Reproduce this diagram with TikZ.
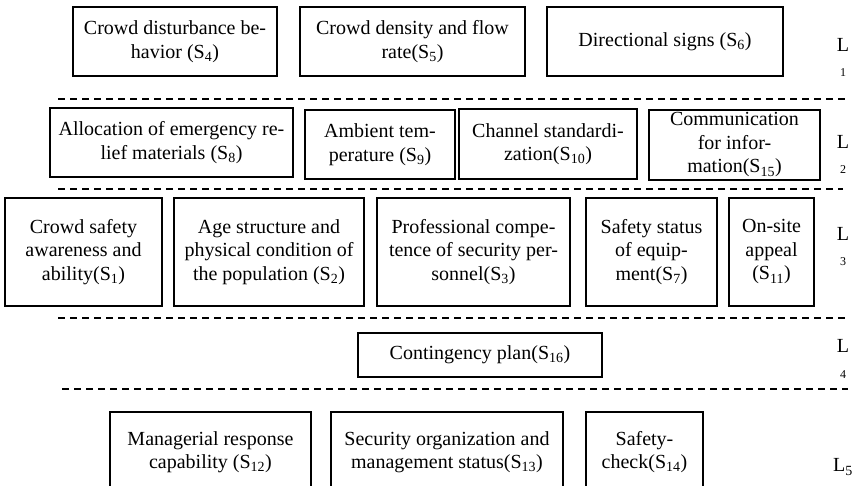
\documentclass[tikz,border=0pt]{standalone}
\usepackage{fontspec}
\setmainfont{Liberation Serif}
\usetikzlibrary{positioning}

\begin{document}
\begin{tikzpicture}[x=1pt, y=-1pt,
						factor/.style={rectangle, draw=black!100, fill=white, line width=1.1pt, inner sep=0pt, align=center, font=\fontsize{20}{23.5}\selectfont},
						levelsym/.style={inner sep=0pt, font=\fontsize{20}{23.5}\selectfont},
						levelidx/.style={inner sep=0pt, font=\fontsize{12}{14}\selectfont},
						divider/.style={line width=1.2pt, dash pattern=on 7pt off 5pt}
					]
					\useasboundingbox (0,0) rectangle (858,486);
					% level 1
					\node[factor, minimum width=204pt, minimum height=69pt] (s4) at (175,41.5) {Crowd disturbance be-\\havior (S\textsubscript{4})};
					\node[factor, minimum width=225pt, minimum height=69pt] (s5) at (412.5,41.5) {Crowd density and flow\\rate(S\textsubscript{5})};
					\node[factor, minimum width=236pt, minimum height=69pt] (s6) at (665,41.5) {Directional signs (S\textsubscript{6})};
					% level 2
					\node[factor, minimum width=243pt, minimum height=69pt] (s8) at (171.5,142.5) {Allocation of emergency re-\\lief materials (S\textsubscript{8})};
					\node[factor, minimum width=150pt, minimum height=69pt] (s9) at (380,144.5) {Ambient tem-\\perature (S\textsubscript{9})};
					\node[factor, minimum width=178pt, minimum height=70pt] (s10) at (548,144) {Channel standardi-\\zation(S\textsubscript{10})};
					\node[factor, minimum width=171pt, minimum height=70pt] (s15) at (734.5,145) {Communication\\for infor-\\mation(S\textsubscript{15})};
					% level 3
					\node[factor, minimum width=157pt, minimum height=108pt] (s1) at (83.5,252) {Crowd safety\\awareness and\\ability(S\textsubscript{1})};
					\node[factor, minimum width=190pt, minimum height=108pt] (s2) at (269,252) {Age structure and\\physical condition of\\the population (S\textsubscript{2})};
					\node[factor, minimum width=193pt, minimum height=108pt] (s3) at (473.5,252) {Professional compe-\\tence of security per-\\sonnel(S\textsubscript{3})};
					\node[factor, minimum width=131pt, minimum height=108pt] (s7) at (651.5,252) {Safety status\\of equip-\\ment(S\textsubscript{7})};
					\node[factor, minimum width=85pt, minimum height=108pt] (s11) at (771.5,252) {On-site\\appeal\\(S\textsubscript{11})};
					% level 4
					\node[factor, minimum width=244pt, minimum height=44pt] (s16) at (480,355) {Contingency plan(S\textsubscript{16})};
					% level 5
					\node[factor, minimum width=201pt, minimum height=80pt] (s12) at (210.5,452) {Managerial response\\capability (S\textsubscript{12})};
					\node[factor, minimum width=232pt, minimum height=80pt] (s13) at (447,452) {Security organization and\\management status(S\textsubscript{13})};
					\node[factor, minimum width=117pt, minimum height=80pt] (s14) at (644.5,452) {Safety-\\check(S\textsubscript{14})};
					% level names
					\node[levelsym] (l1) at (843,45) {L};
					\node[levelidx] (i1) at (843,73) {1};
					\node[levelsym] (l2) at (843,142) {L};
					\node[levelidx] (i2) at (843,170) {2};
					\node[levelsym] (l3) at (843,234) {L};
					\node[levelidx] (i3) at (843,262) {3};
					\node[levelsym] (l4) at (843,346) {L};
					\node[levelidx] (i4) at (843,375) {4};
					\node[levelsym] (l5) at (843,467) {L\textsubscript{5}};
					% dividers
					\coordinate (d1a) at (58,99);  \coordinate (d1b) at (845,99);
					\coordinate (d2a) at (58,189); \coordinate (d2b) at (843,189);
					\coordinate (d3a) at (58,318); \coordinate (d3b) at (845,318);
					\coordinate (d4a) at (62,389); \coordinate (d4b) at (848,389);
					\draw[divider] (d1a) -- (d1b);
					\draw[divider] (d2a) -- (d2b);
					\draw[divider] (d3a) -- (d3b);
					\draw[divider] (d4a) -- (d4b);
					\end{tikzpicture}
\end{document}
